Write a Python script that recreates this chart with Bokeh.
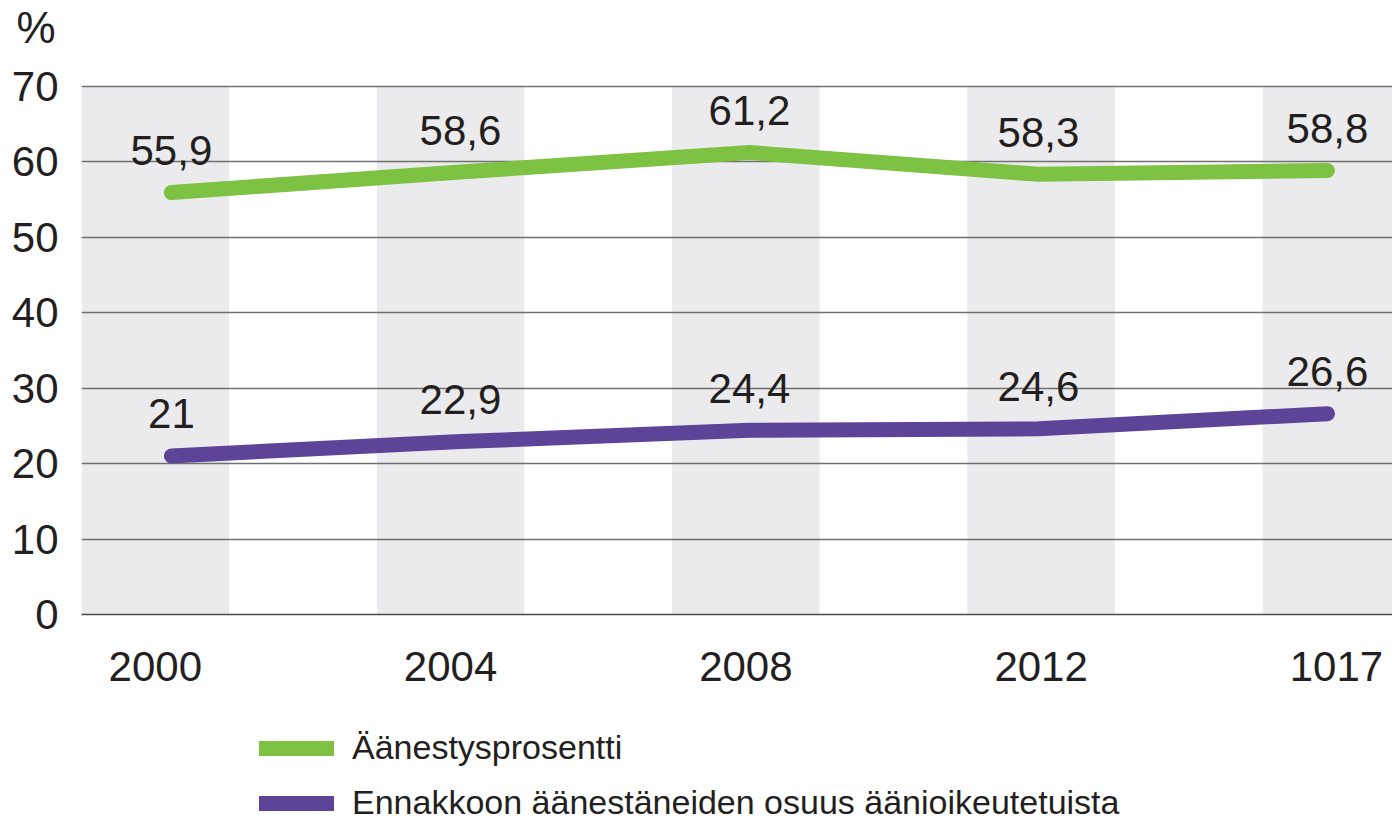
from bokeh.plotting import figure
from bokeh.layouts import column
from bokeh.models import Range1d, FixedTicker, Legend, LegendItem
from bokeh.core.properties import value
from bokeh.embed import file_html
from bokeh.resources import INLINE

years = ["2000", "2004", "2008", "2012", "1017"]
turnout = [55.9, 58.6, 61.2, 58.3, 58.8]
advance = [21.0, 22.9, 24.4, 24.6, 26.6]
turnout_labels = ["55,9", "58,6", "61,2", "58,3", "58,8"]
advance_labels = ["21", "22,9", "24,4", "24,6", "26,6"]
y_ticks = [0, 10, 20, 30, 40, 50, 60, 70]
unit_label = "%"
series_names = ["Äänestysprosentti", "Ennakkoon äänestäneiden osuus äänioikeutetuista"]

FONT = "Liberation Sans"
TXT = "#231f20"
GREEN = "#7dc242"
PURPLE = "#5c4499"
BAND = "#ebebed"

idx = list(range(len(years)))
ymax = y_ticks[-1]


def bare(fig):
    fig.outline_line_color = None
    fig.xgrid.grid_line_color = None
    fig.ygrid.grid_line_color = None
    return fig


# top strip carrying the "%" unit label
tf = bare(figure(width=1392, height=60, output_backend="svg", toolbar_location=None,
                 x_range=Range1d(0, 1), y_range=Range1d(0, 1), x_axis_type=None, y_axis_type=None,
                 min_border_left=0, min_border_right=0, min_border_top=0, min_border_bottom=0))
tf.title.text = unit_label
tf.title.text_font = FONT
tf.title.text_font_size = "44px"
tf.title.text_font_style = "normal"
tf.title.text_color = TXT
tf.title.align = "left"
tf.title.offset = -65
tf.title.standoff = 0

# main chart
p = figure(width=1392, height=640, output_backend="svg", toolbar_location=None,
           x_range=Range1d(-0.25, 4.19), y_range=Range1d(0, ymax + 0.2),
           min_border_left=81, min_border_right=0, min_border_top=24, min_border_bottom=86)
p.extra_x_ranges = {"line": Range1d(-0.311, 4.225)}
p.outline_line_color = None
p.background_fill_color = "white"

bands = p.vbar(x=idx, width=0.5, top=[ymax] * len(idx), bottom=0, fill_color=BAND, line_color=None)
bands.level = "image"

p.xgrid.grid_line_color = None
p.ygrid.ticker = FixedTicker(ticks=y_ticks[1:])
p.ygrid.grid_line_color = "#707070"
p.ygrid.grid_line_width = 1.3
p.ygrid.level = "underlay"

p.yaxis.ticker = FixedTicker(ticks=y_ticks)
p.yaxis.axis_line_color = None
p.yaxis.major_tick_line_color = None
p.yaxis.minor_tick_line_color = None
p.yaxis.major_label_text_font = FONT
p.yaxis.major_label_text_font_size = "42px"
p.yaxis.major_label_text_color = TXT
p.yaxis.major_label_standoff = 17

p.xaxis.ticker = FixedTicker(ticks=idx)
p.xaxis.major_label_overrides = {i: y for i, y in zip(idx, years)}
p.xaxis.axis_line_color = "#4a4a4a"
p.xaxis.axis_line_width = 1.5
p.xaxis.major_tick_line_color = None
p.xaxis.minor_tick_line_color = None
p.xaxis.major_label_text_font = FONT
p.xaxis.major_label_text_font_size = "42px"
p.xaxis.major_label_text_color = TXT
p.xaxis.major_label_standoff = 31

r1 = p.line(idx, turnout, x_range_name="line", line_color=GREEN, line_width=15,
            line_cap="round", line_join="round")
r2 = p.line(idx, advance, x_range_name="line", line_color=PURPLE, line_width=15,
            line_cap="round", line_join="round")

for vals, labs in ((turnout, turnout_labels), (advance, advance_labels)):
    p.text(x=idx, y=vals, text=labs, x_range_name="line", text_align="center",
           text_baseline="alphabetic", y_offset=-42, text_font=value(FONT),
           text_font_size="42px", text_color=TXT)

# legend strip below (series drawn outside its visible range; only the legend shows)
lg = bare(figure(width=1392, height=123, output_backend="svg", toolbar_location=None,
                 x_range=Range1d(0, 1), y_range=Range1d(0, 1), x_axis_type=None, y_axis_type=None,
                 min_border_left=0, min_border_right=0, min_border_top=0, min_border_bottom=0))
l1 = lg.line(idx, turnout, line_color=GREEN, line_width=15, line_cap="round")
l2 = lg.line(idx, advance, line_color=PURPLE, line_width=15, line_cap="round")
legend = Legend(items=[LegendItem(label=series_names[0], renderers=[l1]),
                       LegendItem(label=series_names[1], renderers=[l2])],
                location=(178, 1), orientation="vertical",
                glyph_width=75, glyph_height=38, label_height=38, label_standoff=18,
                spacing=16, padding=0, margin=0, border_line_color=None,
                background_fill_alpha=0,
                label_text_font=FONT, label_text_font_size="34px", label_text_color=TXT)
lg.add_layout(legend, "center")

open("out.html", "w").write(file_html(column(tf, p, lg, spacing=0), INLINE))
